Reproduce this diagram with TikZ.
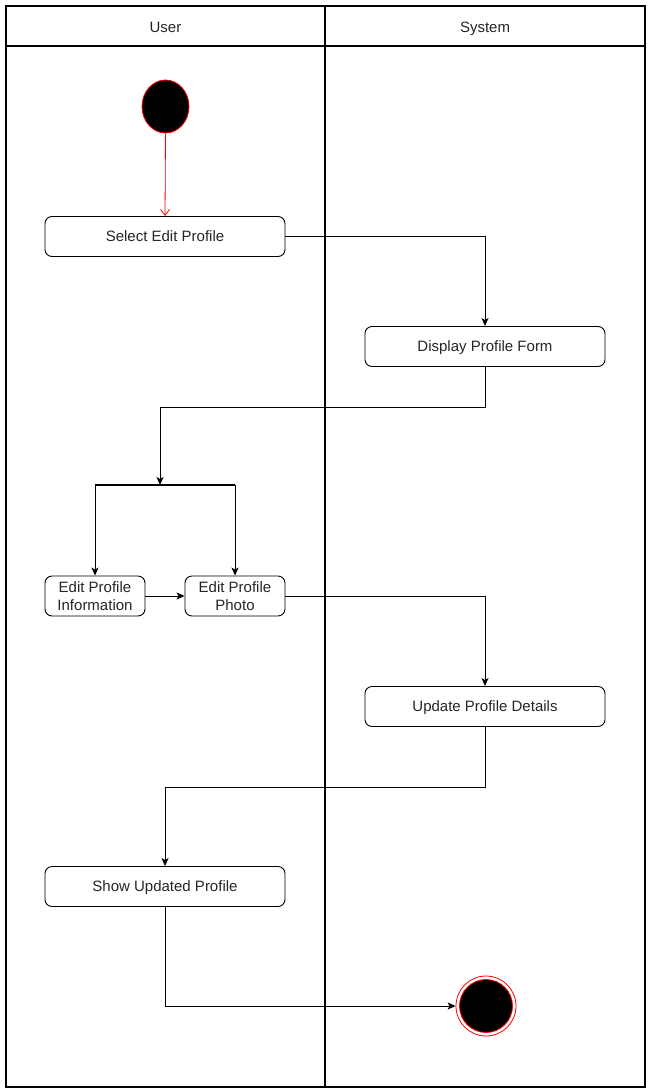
\documentclass[tikz,border=0pt]{standalone}
\usepackage{fontspec}
\setmainfont{Liberation Sans}
\usetikzlibrary{arrows.meta,shapes.geometric}
\begin{document}
\begin{tikzpicture}[x=1pt,y=-1pt,
  lane/.style={draw=black,line width=1.6pt},
  actbox/.style={draw=black,line width=0.9pt,rounded corners=7pt,minimum height=40pt,inner sep=0pt,align=center,text=black!85,font=\fontsize{15}{18}\selectfont,text height=10.8pt,text depth=0pt},
  twoline/.style={text height=28.8pt,text depth=0pt},
  flow/.style={draw=black,line width=0.9pt,-{Stealth[length=8pt,width=7pt,inset=2pt]}},
  lbl/.style={text=black!85,font=\fontsize{15}{18}\selectfont,text height=10.8pt,text depth=0pt,inner sep=0pt}
  ]
\useasboundingbox (0,0) rectangle (650,1092);
\fill[white] (0,0) rectangle (650,1092);
% swimlanes
\draw[lane] (6,6) rectangle (645,1087);
\draw[lane] (6,46) -- (645,46);
\draw[lane] (325,6) -- (325,1087);
\node[lbl] (huser) at (165.5,27.2) {User};
\node[lbl] (hsys) at (485,27.2) {System};
% nodes
\node[draw=red,fill=black,ellipse,minimum width=47pt,minimum height=53pt,inner sep=0pt,line width=0.8pt] (start) at (165.5,106.5) {};
\node[actbox,minimum width=240pt] (sel) at (165,236.5) {Select Edit Profile};
\node[actbox,minimum width=240pt] (disp) at (485,346.5) {Display Profile Form};
\coordinate (barL) at (95,485);
\coordinate (barR) at (235,485);
\coordinate (barM) at (160,485);
\draw[line width=2.2pt] (barL) -- (barR);
\node[actbox,twoline,minimum width=100pt] (info) at (95,596) {Edit Profile\\Information};
\node[actbox,twoline,minimum width=100pt] (photo) at (235,596) {Edit Profile\\Photo};
\node[actbox,minimum width=240pt] (upd) at (485,706.5) {Update Profile Details};
\node[actbox,minimum width=240pt] (show) at (165,886.5) {Show Updated Profile};
\node[circle,draw=red,line width=0.8pt,minimum size=60pt,inner sep=0pt] (endo) at (486,1006) {};
\node[circle,draw=red,fill=black,line width=0.8pt,minimum size=53pt,inner sep=0pt] (endi) at (486,1006) {};
% connectors
\draw[red,line width=0.8pt,-{Straight Barb[length=6pt,width=9pt]}] (start.south) -- (sel.north);
\draw[flow] (sel.east) -| (disp.north);
\draw[flow] (disp.south) -- ++(0,40) -| (barM);
\draw[flow] (barL) -- (info.north);
\draw[flow] (barR) -- (photo.north);
\draw[flow] (info.east) -- (photo.west);
\draw[flow] (photo.east) -| (upd.north);
\draw[flow] (upd.south) -- ++(0,60) -| (show.north);
\draw[flow] (show.south) |- (endo.west);
\end{tikzpicture}
\end{document}
